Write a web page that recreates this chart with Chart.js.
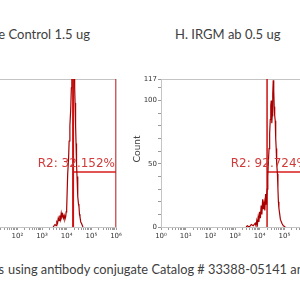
<!DOCTYPE html>
<html>
<head>
<meta charset="utf-8">
<script src="https://cdn.jsdelivr.net/npm/chart.js@4"></script>
<style>
  html, body { margin: 0; padding: 0; background: #fff; }
  #page { position: relative; width: 300px; height: 300px; overflow: hidden; background: #fff; }
  .txt { position: absolute; font-family: Lato, "Open Sans", sans-serif; color: #404040; white-space: nowrap; line-height: 1; }
  #leftTitle { top: 28px; right: 210px; font-size: 13px; text-align: right; }
  #rightTitle { top: 28px; left: 175px; font-size: 13px; }
  #capPre { top: 263px; right: 296px; font-size: 12.8px; text-align: right; }
  #capMain { top: 263px; left: 8px; font-size: 12.8px; }
  #leftChart { position: absolute; left: -62px; top: 73px; }
  #rightChart { position: absolute; left: 131px; top: 73px; }
</style>
</head>
<body>
<div id="page">
  <div class="txt" id="leftTitle">Isotype Control 1.5 ug</div>
  <div class="txt" id="rightTitle">H. IRGM ab 0.5 ug</div>
  <canvas id="leftChart" width="188" height="174"></canvas>
  <canvas id="rightChart" width="178" height="174"></canvas>
  <div class="txt" id="capPre">cells</div>
  <div class="txt" id="capMain">using antibody conjugate Catalog # 33388-05141 and</div>
</div>
<script>
// histogram bins (fluorescence channel) and counts
const leftBins = [2820, 3390, 3700, 3980, 4270, 4570, 4900, 5250, 5620, 6030, 6460, 6920, 7410, 7940, 8510, 9120, 9550, 10000, 11000, 12000, 12600, 13500, 14500, 15500, 16200, 17000, 17800, 18600, 19100, 19700, 20400, 21100, 21900, 23000, 24000, 25100, 26300, 27500, 28800, 30200, 31600, 33100, 34700, 37200, 39800, 45700];
const leftCounts = [0, 2, 1, 4, 3, 7, 5, 9, 6, 11, 8, 10, 7, 9, 6, 8, 12, 14, 42, 55, 68, 80, 92, 110, 125, 150, 160, 140, 175, 150, 140, 110, 98, 80, 66, 50, 40, 30, 24, 18, 16, 10, 8, 4, 3, 0];

const rightBins = [2820, 3160, 3800, 4570, 5500, 6600, 7100, 7600, 8100, 8700, 9300, 10000, 10700, 11500, 12300, 13200, 14100, 15100, 16200, 17400, 18200, 19100, 20200, 21400, 22600, 24000, 25400, 26900, 28200, 29500, 31000, 32400, 33900, 35500, 37200, 38900, 40700, 42700, 44700, 46800, 49000, 52500, 55000, 57500, 60200, 63100, 69200, 79400, 91200, 110000];
const rightCounts = [0, 1, 0, 2, 1, 3, 1, 5, 2, 8, 4, 12, 7, 17, 10, 22, 14, 19, 13, 26, 18, 24, 30, 40, 52, 62, 74, 85, 96, 100, 82, 88, 105, 116, 108, 95, 88, 84, 70, 62, 50, 42, 30, 20, 15, 12, 6, 3, 1, 0];

// R2 gate: [low, high], marker level, label
const leftGate = [18200, 1000000];
const rightGate = [19950, 1000000];
const gateLevel = 43.5;
const leftGateLabel = "R2: 32.152%";
const rightGateLabel = "R2: 92.724%";

// axes
const xMin = 1, xMax = 1000000;
const decadeLabels = ["10\u2070", "10\u00b9", "10\u00b2", "10\u00b3", "10\u2074", "10\u2075", "10\u2076"];
const yMax = 117;
const yTickValues = [0, 10, 20, 30, 40, 50, 60, 70, 80, 90, 100, 110, 117];
const yLabelValues = [0, 50, 100, 117];
const yTitle = "Count";

function toPoints(xs, ys) {
    return xs.map((x, i) => ({ x: x, y: ys[i] }));
}

const frameBox = {
    id: 'frameBox',
    beforeDatasetsDraw(chart) {
        const a = chart.chartArea;
        const ctx = chart.ctx;
        ctx.save();
        ctx.strokeStyle = '#c4c4c4';
        ctx.lineWidth = 1;
        ctx.strokeRect(Math.round(a.left) + 0.5, Math.round(a.top) + 0.5, Math.round(a.width), Math.round(a.height));
        // y axis title
        ctx.translate(a.left - 24, (a.top + a.bottom) / 2 - 4);
        ctx.rotate(-Math.PI / 2);
        ctx.font = '10px Lato, sans-serif';
        ctx.fillStyle = '#444';
        ctx.textAlign = 'center';
        ctx.textBaseline = 'middle';
        ctx.fillText(yTitle, 0, 0);
        ctx.restore();
    }
};

const gateText = {
    id: 'gateText',
    afterDatasetsDraw(chart, args, opts) {
        const ctx = chart.ctx;
        const x = chart.scales.x.getPixelForValue(opts.hi);
        const y = chart.scales.y.getPixelForValue(opts.level);
        ctx.save();
        ctx.font = '12px "DejaVu Sans", Verdana, sans-serif';
        ctx.fillStyle = '#d03a3a';
        ctx.textAlign = 'right';
        ctx.textBaseline = 'bottom';
        ctx.fillText(opts.text, x - 1, y - 2);
        ctx.restore();
    }
};

function makeChart(el, bins, counts, gate, label, padRight, gateWidth) {
    return new Chart(el, {
        type: 'scatter',
        data: {
            datasets: [
                {
                    label: 'histogram',
                    data: toPoints(bins, counts),
                    showLine: true,
                    borderColor: '#a80000',
                    borderWidth: 1.2,
                    pointRadius: 0
                },
                {
                    label: 'gate low',
                    data: [{ x: gate[0], y: 0 }, { x: gate[0], y: yMax }],
                    showLine: true,
                    borderColor: '#cc1010',
                    borderWidth: gateWidth,
                    pointRadius: 0
                },
                {
                    label: 'gate high',
                    data: [{ x: gate[1], y: 0 }, { x: gate[1], y: yMax }],
                    showLine: true,
                    borderColor: '#d81c1c',
                    borderWidth: 1.5,
                    pointRadius: 0
                },
                {
                    label: 'gate bar',
                    data: [{ x: gate[0], y: gateLevel }, { x: gate[1], y: gateLevel }],
                    showLine: true,
                    borderColor: '#d81c1c',
                    borderWidth: 1.5,
                    pointRadius: 0
                }
            ]
        },
        options: {
            responsive: false,
            animation: false,
            devicePixelRatio: 1,
            layout: { padding: { top: 6, right: padRight, left: 0, bottom: 0 } },
            plugins: {
                legend: { display: false },
                tooltip: { enabled: false },
                gateText: { text: label, hi: gate[1], level: gateLevel }
            },
            scales: {
                x: {
                    type: 'logarithmic',
                    min: xMin,
                    max: xMax,
                    border: { color: '#b8b8b8' },
                    grid: { drawOnChartArea: false, tickLength: 3, color: '#9a9a9a' },
                    ticks: {
                        autoSkip: false,
                        maxRotation: 0,
                        padding: 2,
                        color: '#333',
                        font: { size: 7, family: '"DejaVu Sans", sans-serif' },
                        callback: (v) => {
                            const e = Math.log10(v);
                            return Math.abs(e - Math.round(e)) < 1e-6 ? decadeLabels[Math.round(e)] : '';
                        }
                    },
                    afterBuildTicks: (scale) => {
                        const t = [];
                        for (let d = 1; d <= xMax; d *= 10) {
                            for (let m = 1; m < 10; m++) {
                                if (d * m <= xMax) t.push({ value: d * m });
                            }
                        }
                        scale.ticks = t;
                    },
                    afterFit: (scale) => {
                        scale.height = 20;
                        scale.paddingLeft = 0;
                        scale.paddingRight = 0;
                    }
                },
                y: {
                    min: 0,
                    max: yMax,
                    border: { color: '#b8b8b8' },
                    grid: { drawOnChartArea: false, tickLength: 3, color: '#9a9a9a' },
                    ticks: {
                        autoSkip: false,
                        padding: 1,
                        color: '#333',
                        font: { size: 7, family: '"DejaVu Sans", sans-serif' },
                        callback: (v) => yLabelValues.includes(v) ? String(v) : ''
                    },
                    afterBuildTicks: (scale) => {
                        scale.ticks = yTickValues.map(v => ({ value: v }));
                    },
                    afterFit: (scale) => {
                        scale.width = 30;
                        scale.paddingTop = 0;
                        scale.paddingBottom = 0;
                    }
                }
            }
        },
        plugins: [frameBox, gateText]
    });
}

const leftChart = makeChart(document.getElementById('leftChart'), leftBins, leftCounts, leftGate, leftGateLabel, 10, 2);
const rightChart = makeChart(document.getElementById('rightChart'), rightBins, rightCounts, rightGate, rightGateLabel, 0, 1.5);
</script>
</body>
</html>
